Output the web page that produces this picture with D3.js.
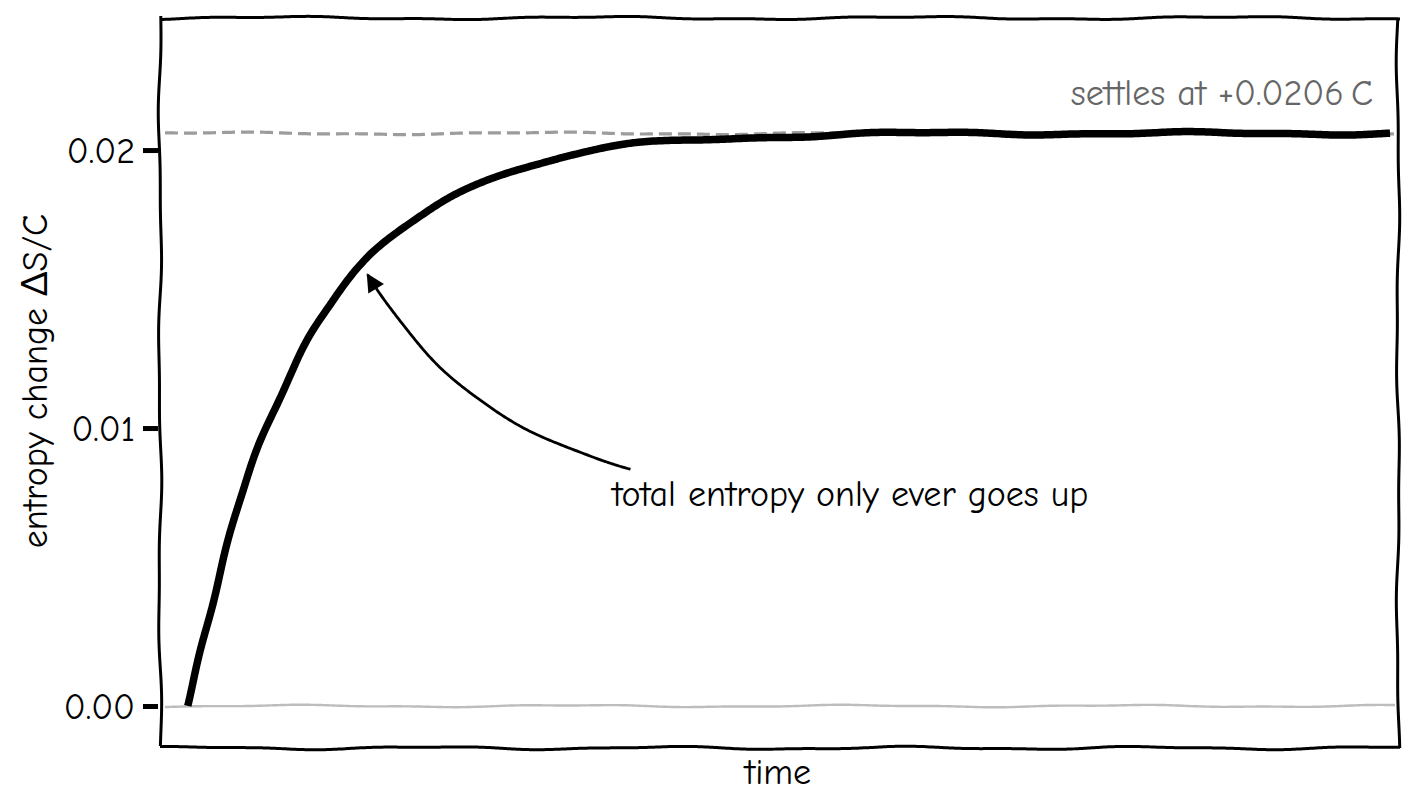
<!DOCTYPE html>
<html>
<head>
<meta charset="utf-8">
<script src="https://cdn.jsdelivr.net/npm/d3@7"></script>
<style>
  body { margin: 0; background: #fff; }
  text { font-family: "Humor Sans", "Comic Sans MS", "Comic Neue", Lato, sans-serif; }
</style>
</head>
<body>
<div id="chart"></div>
<script>
const width = 1416;
const height = 811;
const marginTop = 18;
const marginRight = 16;
const marginBottom = 63;
const marginLeft = 160;

// time (arbitrary units) and total entropy change dS/C
const times = [0, 0.1, 0.2, 0.3, 0.4, 0.5, 0.6, 0.8, 1.0, 1.2, 1.5, 2.0, 2.5, 3.0, 3.5, 4.0, 5.0, 6.0, 7.0, 8.0, 9.0, 10.0];
const entropy = [0, 0.0020, 0.0038, 0.0054, 0.0069, 0.0082, 0.0094, 0.0115, 0.0133, 0.0146, 0.0161, 0.0178, 0.0190, 0.0196, 0.0201, 0.0203, 0.0205, 0.0206, 0.0206, 0.0206, 0.0206, 0.0206];
const finalValue = 0.0206;
const yTicks = [0, 0.01, 0.02];
const yTickLabels = ["0.00", "0.01", "0.02"];

const data = times.map((t, i) => ({ t, v: entropy[i] }));

const innerW = width - marginLeft - marginRight;
const innerH = height - marginTop - marginBottom;
const fs = 36;

const x = d3.scaleLinear()
    .domain([-0.233, 10.083])
    .range([0, innerW]);
const y = d3.scaleLinear()
    .domain([-0.00151, 0.02475])
    .range([innerH, 0]);

const svgRoot = d3.select("#chart")
  .append("svg")
    .attr("width", width)
    .attr("height", height);

const defs = svgRoot.append("defs");
defs.append("marker")
    .attr("id", "head")
    .attr("viewBox", "0 0 10 10")
    .attr("refX", 9).attr("refY", 5)
    .attr("markerWidth", 7.5).attr("markerHeight", 6.5)
    .attr("markerUnits", "strokeWidth")
    .attr("orient", "auto")
  .append("path")
    .attr("d", "M0,0 L10,5 L0,10 z")
    .attr("fill", "#000");

const svg = svgRoot.append("g")
    .attr("transform", `translate(${marginLeft},${marginTop})`);

// hand drawn look: resample a path and push it sideways a little
let seed = 0;
function wobble(sel, amp = 1.6) {
  seed += 1;
  const p1 = seed * 1.7, p2 = seed * 2.9, l1 = 38 + (seed % 3) * 6, l2 = 17;
  sel.each(function () {
    const node = this;
    const len = node.getTotalLength();
    const n = Math.max(2, Math.ceil(len / 3));
    const pts = d3.range(n + 1).map(i => node.getPointAtLength(len * i / n));
    const out = pts.map((p, i) => {
      const a = pts[Math.max(0, i - 1)], b = pts[Math.min(n, i + 1)];
      let nx = -(b.y - a.y), ny = b.x - a.x;
      const m = Math.hypot(nx, ny) || 1;
      nx /= m; ny /= m;
      const s = len * i / n;
      const o = amp * (0.7 * Math.sin(s / l1 + p1) + 0.3 * Math.sin(s / l2 + p2));
      return [p.x + nx * o, p.y + ny * o];
    });
    d3.select(node).attr("d", d3.line().curve(d3.curveBasis)(out));
  });
  return sel;
}

function hline(g, x1, x2, yy) {
  return g.append("path").attr("d", `M${x1},${yy}L${x2},${yy}`).attr("fill", "none");
}
function vline(g, xx, y1, y2) {
  return g.append("path").attr("d", `M${xx},${y1}L${xx},${y2}`).attr("fill", "none");
}

// zero reference
hline(svg, 5, innerW - 5, y(0))
    .attr("stroke", "#bdbdbd")
    .attr("stroke-width", 2.4)
    .call(wobble, 1.3);

// settle level
hline(svg, 5, innerW - 5, y(finalValue))
    .attr("stroke", "#9c9c9c")
    .attr("stroke-width", 3.2)
    .attr("stroke-dasharray", "13,6")
    .call(wobble, 1.4);

// spines
const spines = svg.append("g")
    .attr("stroke", "#000")
    .attr("stroke-width", 3);
vline(spines, 0, -2, innerH - 2).call(wobble, 1.8);
vline(spines, innerW - 2, 0, innerH).call(wobble, 1.8);
hline(spines, 0, innerW, 0).call(wobble, 1.8);
hline(spines, 0, innerW, innerH).call(wobble, 1.8);

// y axis ticks
const yAxis = svg.append("g")
    .call(d3.axisLeft(y)
        .tickValues(yTicks)
        .tickFormat((d, i) => yTickLabels[i])
        .tickSize(15)
        .tickPadding(10));
yAxis.select(".domain").remove();
yAxis.selectAll(".tick line")
    .attr("stroke", "#000")
    .attr("stroke-width", 5)
    .attr("transform", "translate(-2,0)");
yAxis.selectAll(".tick text")
    .attr("font-size", fs)
    .attr("fill", "#000")
    .attr("dy", "0.35em")
    .attr("font-family", null);

// main curve
const line = d3.line()
    .curve(d3.curveMonotoneX)
    .x(d => x(d.t))
    .y(d => y(d.v));

svg.append("path")
    .datum(data)
    .attr("fill", "none")
    .attr("stroke", "#000")
    .attr("stroke-width", 7.5)
    .attr("stroke-linejoin", "round")
    .attr("d", line)
    .call(wobble, 1.8);

// annotation arrow, from text to curve
const tail = [x(3.68), y(0.0085)];
const tip = [x(1.49), y(0.0155)];
const mx = (tail[0] + tip[0]) / 2, my = (tail[1] + tip[1]) / 2;
const dx = tip[0] - tail[0], dy = tip[1] - tail[1];
const ctrl = [mx + dy * 0.2, my - dx * 0.2];
svg.append("path")
    .attr("d", `M${tail[0]},${tail[1]} Q${ctrl[0]},${ctrl[1]} ${tip[0]},${tip[1]}`)
    .attr("fill", "none")
    .attr("stroke", "#000")
    .attr("stroke-width", 2.8)
    .call(wobble, 1.5)
    .attr("marker-end", "url(#head)");

svg.append("text")
    .attr("x", x(3.53))
    .attr("y", y(0.0072))
    .attr("font-size", fs)
    .attr("fill", "#000")
    .text("total entropy only ever goes up");

svg.append("text")
    .attr("x", innerW - 27)
    .attr("y", y(0.0206) - 28)
    .attr("text-anchor", "end")
    .attr("font-size", fs)
    .attr("fill", "#666")
    .text("settles at +0.0206\u2009C");

// axis labels
svg.append("text")
    .attr("x", innerW / 2 - 2)
    .attr("y", innerH + 36)
    .attr("text-anchor", "middle")
    .attr("font-size", fs)
    .text("time");

svg.append("text")
    .attr("transform", `translate(${-113},${innerH / 2 - 2}) rotate(-90)`)
    .attr("text-anchor", "middle")
    .attr("font-size", fs)
    .text("entropy change  \u0394S/C");
</script>
</body>
</html>
